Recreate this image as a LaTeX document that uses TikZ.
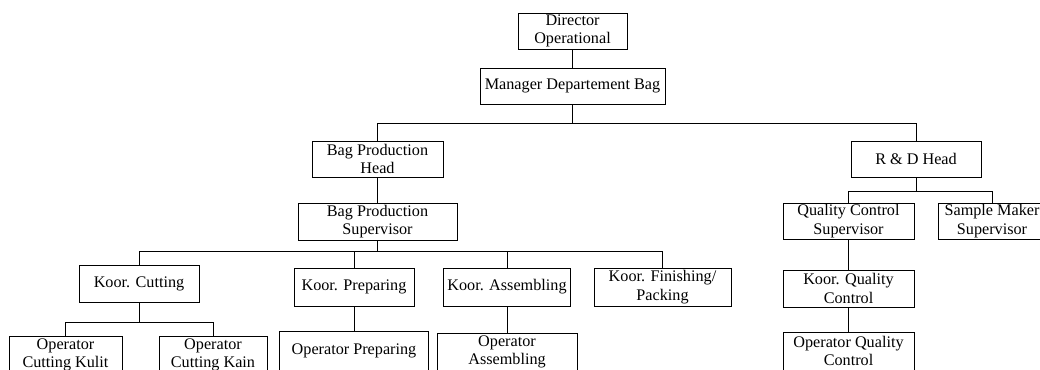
\documentclass[tikz,border=0pt]{standalone}
\usepackage{fontspec}
\setmainfont{Liberation Serif}
\begin{document}
\begin{tikzpicture}[x=1pt,y=-1pt,
  box/.style={draw=black,line width=0.8pt,fill=white,align=center,inner sep=1pt,
    font=\fontsize{16.2}{18.5}\selectfont},
  conn/.style={draw=black,line width=0.8pt}]
\useasboundingbox (0,0) rectangle (1040,369);
\clip (0,0) rectangle (1040,369);
% bus coordinates
\coordinate (busA) at (0,123);
\coordinate (busB) at (0,251);
\coordinate (busC) at (0,322);
\coordinate (busD) at (0,191);
% nodes
\node[box,minimum width=109pt,minimum height=36pt] (dir) at (572.5,31) {Director\\Operational};
\node[box,minimum width=185pt,minimum height=36pt] (mgr) at (572.5,86) {Manager Departement Bag};
\node[box,minimum width=131pt,minimum height=36pt] (bph) at (377.5,159) {Bag Production\\Head};
\node[box,minimum width=130pt,minimum height=36pt] (rdh) at (916,159) {R \& D Head};
\node[box,minimum width=159pt,minimum height=37pt] (bps) at (377.5,221.5) {Bag Production\\Supervisor};
\node[box,minimum width=120pt,minimum height=37pt] (kc) at (139,284) {Koor. Cutting};
\node[box,minimum width=120pt,minimum height=38pt] (kp) at (354,287) {Koor. Preparing};
\node[box,minimum width=127pt,minimum height=38pt] (ka) at (507,287) {Koor. Assembling};
\node[box,minimum width=137pt,minimum height=38pt] (kf) at (662.5,287) {Koor. Finishing/\\Packing};
\node[box,minimum width=131pt,minimum height=36pt] (qcs) at (848.5,221) {Quality Control\\Supervisor};
\node[box,minimum width=108pt,minimum height=36pt] (sms) at (992,221) {Sample Maker\\Supervisor};
\node[box,minimum width=131pt,minimum height=37pt] (kqc) at (848.5,288.5) {Koor. Quality\\Control};
\node[box,minimum width=131pt,minimum height=38pt] (oqc) at (848.5,351) {Operator Quality\\Control};
\node[box,minimum width=113pt,minimum height=38pt] (ock) at (65.5,355) {Operator\\Cutting Kulit};
\node[box,minimum width=108pt,minimum height=38pt] (ocn) at (213,355) {Operator\\Cutting Kain};
\node[box,minimum width=149pt,minimum height=40pt] (op) at (354,351) {Operator Preparing};
\node[box,minimum width=140pt,minimum height=38pt] (oa) at (507,352) {Operator\\Assembling};
% connectors
\draw[conn] (dir.south) -- (mgr.north);
\draw[conn] (mgr.south) -- (mgr.south |- busA);
\draw[conn] (bph.north) -- (bph.north |- busA) -- (rdh.north |- busA) -- (rdh.north);
\draw[conn] (bph.south) -- (bps.north);
\draw[conn] (bps.south) -- (bps.south |- busB);
\draw[conn] (kc.north) -- (kc.north |- busB) -- (kf.north |- busB) -- (kf.north);
\draw[conn] (kp.north) -- (kp.north |- busB);
\draw[conn] (ka.north) -- (ka.north |- busB);
\draw[conn] (kc.south) -- (kc.south |- busC);
\draw[conn] (ock.north) -- (ock.north |- busC) -- (ocn.north |- busC) -- (ocn.north);
\draw[conn] (kp.south) -- (op.north);
\draw[conn] (ka.south) -- (oa.north);
\draw[conn] (rdh.south) -- (rdh.south |- busD);
\draw[conn] (qcs.north) -- (qcs.north |- busD) -- (sms.north |- busD) -- (sms.north);
\draw[conn] (qcs.south) -- (kqc.north);
\draw[conn] (kqc.south) -- (oqc.north);
\end{tikzpicture}
\end{document}
